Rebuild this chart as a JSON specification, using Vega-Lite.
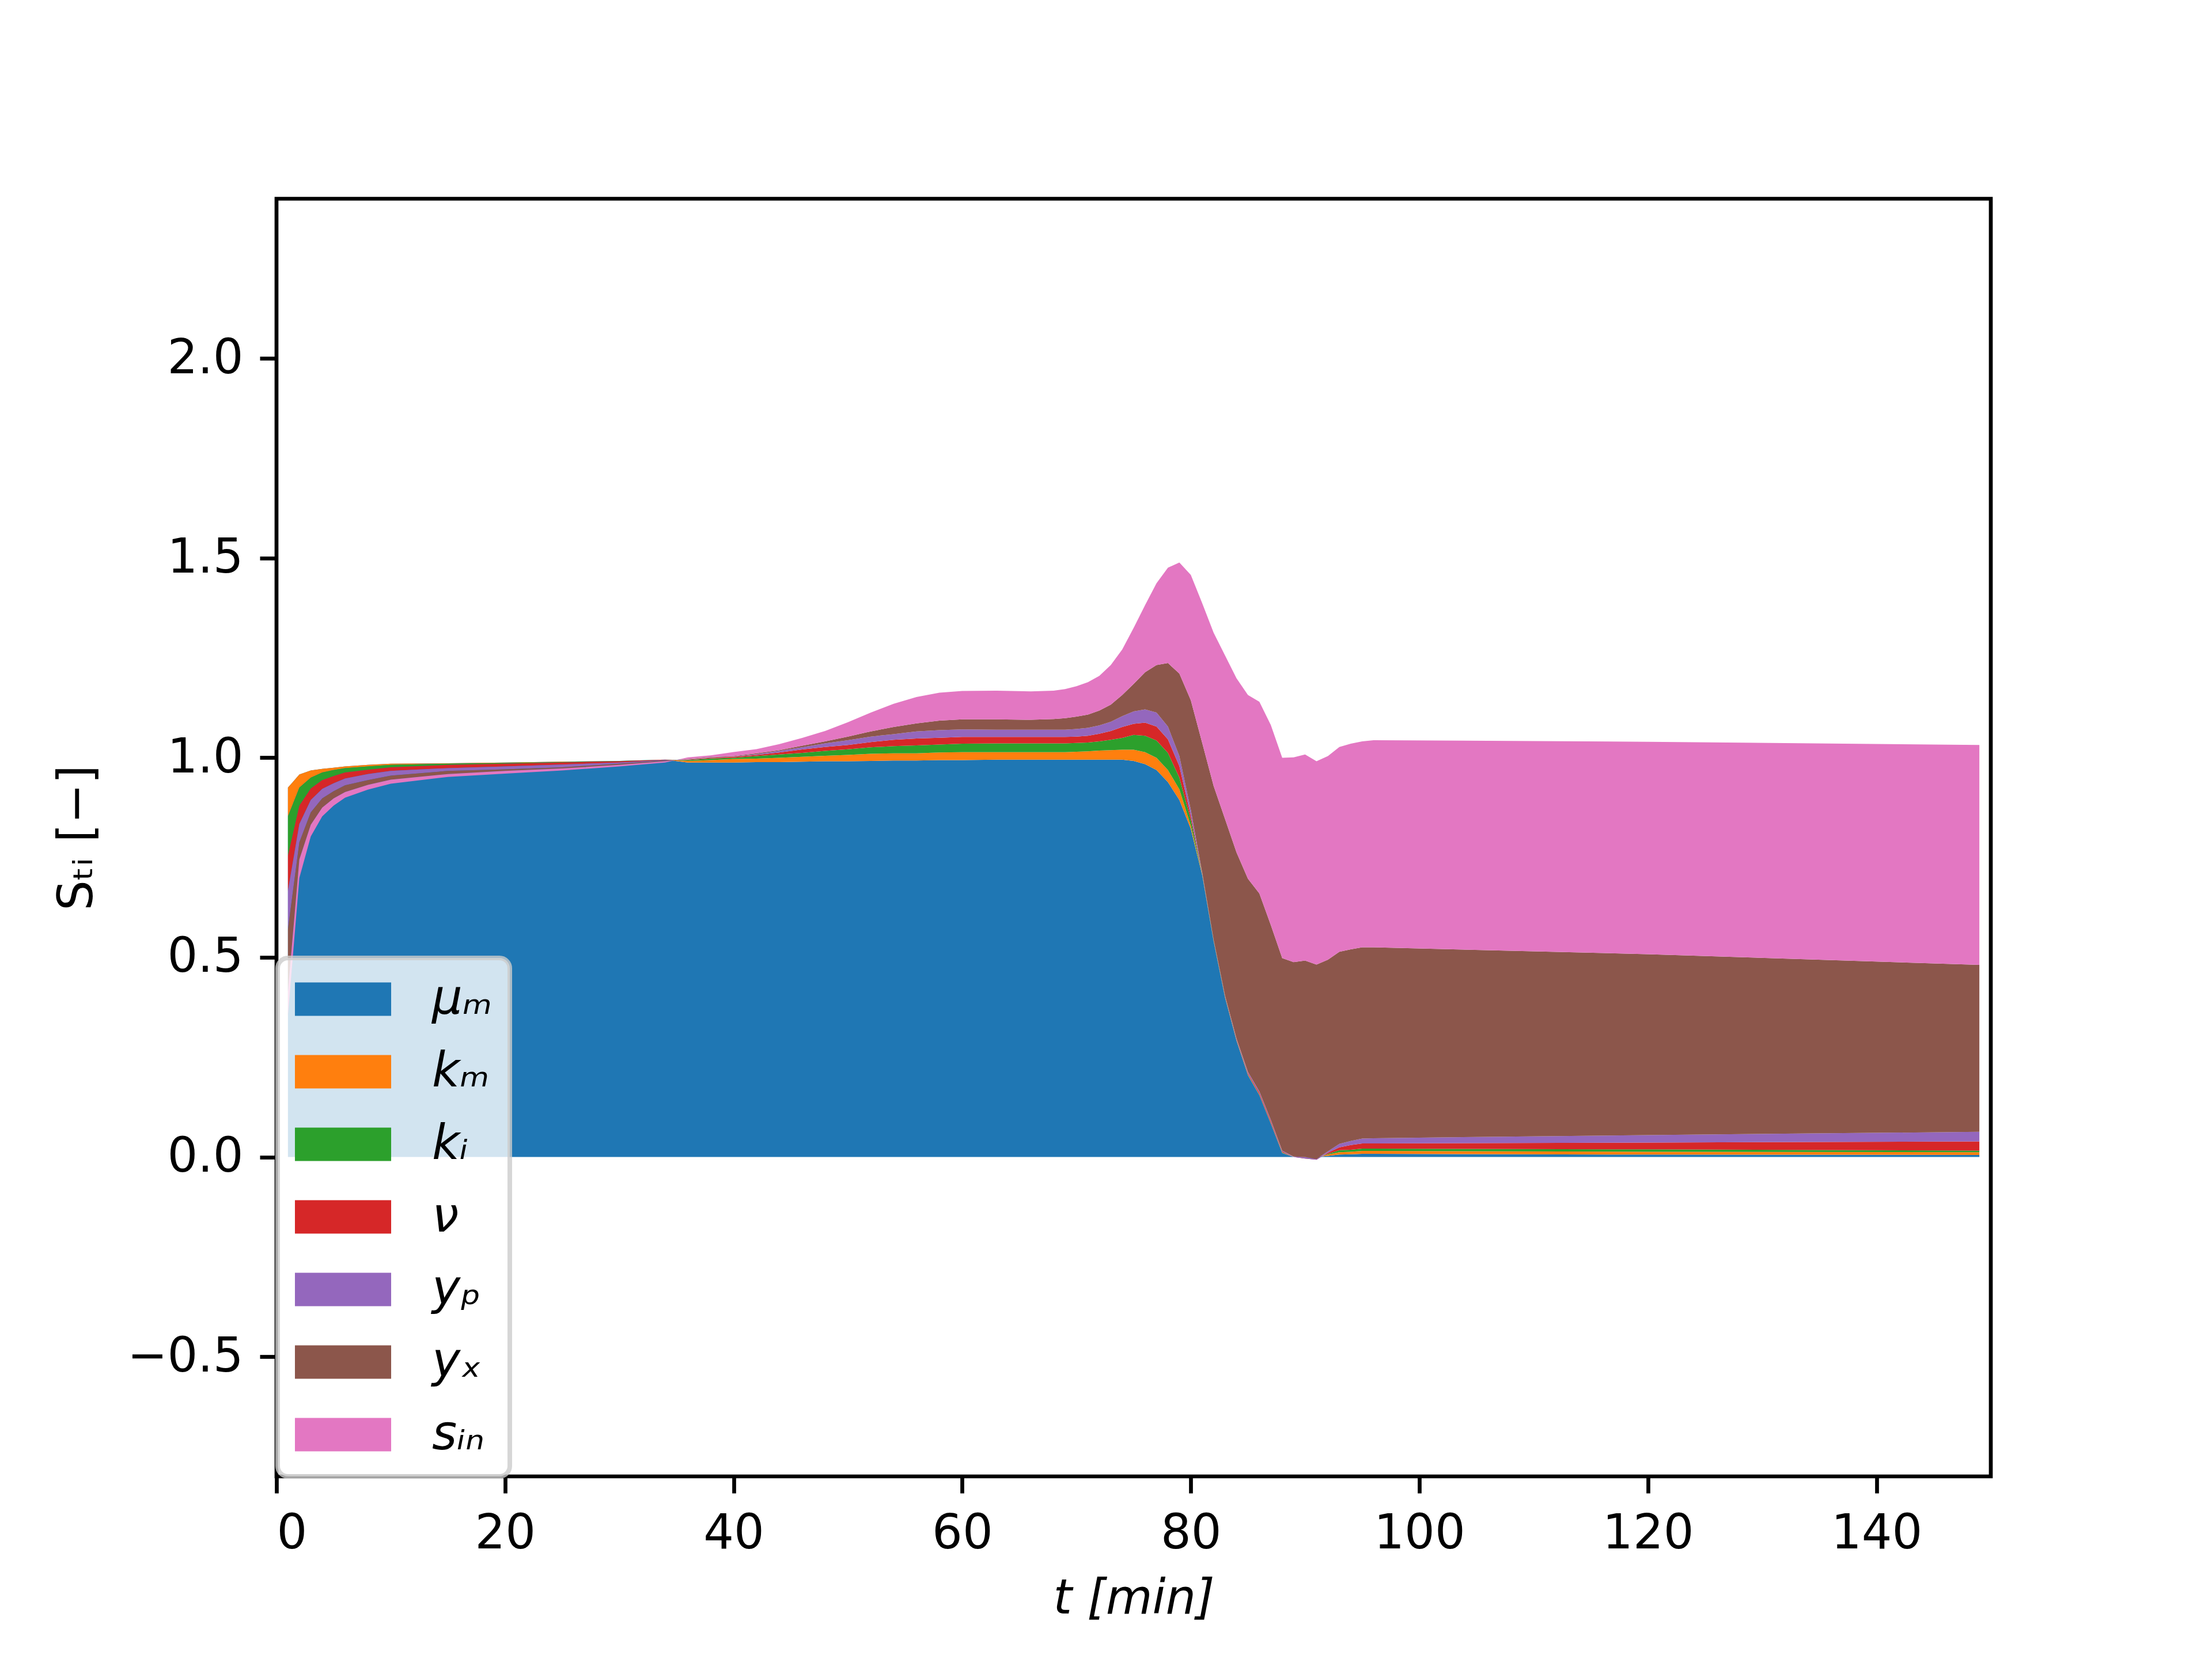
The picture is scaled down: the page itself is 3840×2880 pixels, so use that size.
{
  "$schema": "https://vega.github.io/schema/vega-lite/v6.json",
  "width": 2976,
  "height": 2218,
  "autosize": {"type": "none"},
  "padding": {"left": 480, "top": 345, "right": 384, "bottom": 317},
  "background": "white",
  "config": {
    "view": {"stroke": "black", "strokeWidth": 6.7},
    "font": "DejaVu Sans",
    "axis": {
      "domain": false,
      "grid": false,
      "ticks": true,
      "tickSize": 29,
      "tickWidth": 6.7,
      "tickColor": "black",
      "labelFont": "DejaVu Sans",
      "labelFontSize": 83,
      "labelColor": "black",
      "labelPadding": 29,
      "labelLimit": 0,
      "titleFont": "DejaVu Sans",
      "titleFontSize": 83,
      "titleFontWeight": "normal",
      "titleColor": "black"
    }
  },
  "data": {
    "values": [
      {"t": 1, "c1": 0.925, "c2": -0.072, "c3": -0.098, "c4": -0.089, "c5": -0.096, "c6": -0.156, "c7": -0.060},
      {"t": 2, "c1": 0.958, "c2": -0.033, "c3": -0.045, "c4": -0.046, "c5": -0.046, "c6": -0.043, "c7": -0.046},
      {"t": 3, "c1": 0.968, "c2": -0.018, "c3": -0.027, "c4": -0.029, "c5": -0.031, "c6": -0.031, "c7": -0.029},
      {"t": 4, "c1": 0.972, "c2": -0.009, "c3": -0.019, "c4": -0.022, "c5": -0.024, "c6": -0.023, "c7": -0.022},
      {"t": 5, "c1": 0.975, "c2": -0.006, "c3": -0.015, "c4": -0.018, "c5": -0.020, "c6": -0.018, "c7": -0.018},
      {"t": 6, "c1": 0.978, "c2": -0.004, "c3": -0.011, "c4": -0.015, "c5": -0.017, "c6": -0.017, "c7": -0.014},
      {"t": 8, "c1": 0.982, "c2": -0.004, "c3": -0.008, "c4": -0.011, "c5": -0.015, "c6": -0.012, "c7": -0.012},
      {"t": 10, "c1": 0.985, "c2": -0.003, "c3": -0.006, "c4": -0.009, "c5": -0.012, "c6": -0.010, "c7": -0.010},
      {"t": 15, "c1": 0.986, "c2": -0.001, "c3": -0.003, "c4": -0.008, "c5": -0.007, "c6": -0.008, "c7": -0.007},
      {"t": 20, "c1": 0.988, "c2": -0.001, "c3": -0.002, "c4": -0.007, "c5": -0.007, "c6": -0.004, "c7": -0.007},
      {"t": 25, "c1": 0.990, "c2": -0.001, "c3": -0.001, "c4": -0.005, "c5": -0.007, "c6": -0.003, "c7": -0.005},
      {"t": 30, "c1": 0.992, "c2": 0.0, "c3": -0.001, "c4": -0.003, "c5": -0.003, "c6": -0.003, "c7": -0.004},
      {"t": 34, "c1": 0.995, "c2": 0.0, "c3": 0.0, "c4": -0.001, "c5": -0.001, "c6": -0.002, "c7": -0.003},
      {"t": 36, "c1": 0.988, "c2": 0.004, "c3": 0.002, "c4": 0.001, "c5": 0.001, "c6": 0.001, "c7": 0.004},
      {"t": 38, "c1": 0.988, "c2": 0.006, "c3": 0.004, "c4": 0.002, "c5": 0.001, "c6": 0.001, "c7": 0.004},
      {"t": 40, "c1": 0.988, "c2": 0.0087, "c3": 0.0033, "c4": 0.0024, "c5": 0.0006, "c6": 0.0013, "c7": 0.0101},
      {"t": 42, "c1": 0.989, "c2": 0.0086, "c3": 0.0067, "c4": 0.0027, "c5": 0.002, "c6": 0.002, "c7": 0.0106},
      {"t": 44, "c1": 0.989, "c2": 0.011, "c3": 0.008, "c4": 0.005, "c5": 0.004, "c6": 0.002, "c7": 0.015},
      {"t": 46, "c1": 0.990, "c2": 0.0124, "c3": 0.0096, "c4": 0.0086, "c5": 0.0054, "c6": 0.004, "c7": 0.0195},
      {"t": 48, "c1": 0.991, "c2": 0.014, "c3": 0.012, "c4": 0.010, "c5": 0.009, "c6": 0.005, "c7": 0.026},
      {"t": 50, "c1": 0.991, "c2": 0.016, "c3": 0.014, "c4": 0.011, "c5": 0.012, "c6": 0.009, "c7": 0.036},
      {"t": 52, "c1": 0.992, "c2": 0.018, "c3": 0.016, "c4": 0.013, "c5": 0.014, "c6": 0.013, "c7": 0.047},
      {"t": 54, "c1": 0.993, "c2": 0.018, "c3": 0.018, "c4": 0.016, "c5": 0.014, "c6": 0.018, "c7": 0.058},
      {"t": 56, "c1": 0.993, "c2": 0.018, "c3": 0.020, "c4": 0.017, "c5": 0.018, "c6": 0.020, "c7": 0.066},
      {"t": 58, "c1": 0.994, "c2": 0.019, "c3": 0.020, "c4": 0.017, "c5": 0.019, "c6": 0.024, "c7": 0.070},
      {"t": 60, "c1": 0.994, "c2": 0.020, "c3": 0.021, "c4": 0.017, "c5": 0.019, "c6": 0.025, "c7": 0.071},
      {"t": 63, "c1": 0.995, "c2": 0.019, "c3": 0.022, "c4": 0.016, "c5": 0.018, "c6": 0.026, "c7": 0.072},
      {"t": 66, "c1": 0.995, "c2": 0.019, "c3": 0.022, "c4": 0.016, "c5": 0.018, "c6": 0.025, "c7": 0.071},
      {"t": 68, "c1": 0.995, "c2": 0.019, "c3": 0.022, "c4": 0.016, "c5": 0.018, "c6": 0.027, "c7": 0.071},
      {"t": 69, "c1": 0.995, "c2": 0.019, "c3": 0.022, "c4": 0.016, "c5": 0.018, "c6": 0.029, "c7": 0.073},
      {"t": 70, "c1": 0.995, "c2": 0.020, "c3": 0.022, "c4": 0.016, "c5": 0.019, "c6": 0.031, "c7": 0.076},
      {"t": 71, "c1": 0.995, "c2": 0.021, "c3": 0.022, "c4": 0.017, "c5": 0.020, "c6": 0.033, "c7": 0.081},
      {"t": 72, "c1": 0.995, "c2": 0.023, "c3": 0.023, "c4": 0.019, "c5": 0.021, "c6": 0.037, "c7": 0.087},
      {"t": 73, "c1": 0.995, "c2": 0.024, "c3": 0.026, "c4": 0.022, "c5": 0.023, "c6": 0.043, "c7": 0.099},
      {"t": 74, "c1": 0.995, "c2": 0.025, "c3": 0.0295, "c4": 0.0275, "c5": 0.027, "c6": 0.053, "c7": 0.114},
      {"t": 75, "c1": 0.992, "c2": 0.028, "c3": 0.037, "c4": 0.028, "c5": 0.031, "c6": 0.069, "c7": 0.140},
      {"t": 76, "c1": 0.984, "c2": 0.030, "c3": 0.041, "c4": 0.033, "c5": 0.033, "c6": 0.093, "c7": 0.168},
      {"t": 77, "c1": 0.969, "c2": 0.031, "c3": 0.043, "c4": 0.035, "c5": 0.035, "c6": 0.119, "c7": 0.205},
      {"t": 78, "c1": 0.939, "c2": 0.030, "c3": 0.043, "c4": 0.034, "c5": 0.032, "c6": 0.159, "c7": 0.239},
      {"t": 79, "c1": 0.894, "c2": 0.027, "c3": 0.029, "c4": 0.029, "c5": 0.025, "c6": 0.207, "c7": 0.278},
      {"t": 80, "c1": 0.822, "c2": 0.008, "c3": 0.015, "c4": 0.010, "c5": 0.015, "c6": 0.274, "c7": 0.314},
      {"t": 81, "c1": 0.706, "c2": 0.002, "c3": 0.001, "c4": 0.001, "c5": 0.002, "c6": 0.325, "c7": 0.350},
      {"t": 82, "c1": 0.540, "c2": 0.001, "c3": 0.001, "c4": 0.001, "c5": 0.001, "c6": 0.385, "c7": 0.384},
      {"t": 83, "c1": 0.399, "c2": 0.001, "c3": 0.001, "c4": 0.002, "c5": 0.001, "c6": 0.442, "c7": 0.410},
      {"t": 84, "c1": 0.291, "c2": 0.001, "c3": 0.001, "c4": 0.002, "c5": 0.002, "c6": 0.466, "c7": 0.436},
      {"t": 85, "c1": 0.205, "c2": 0.001, "c3": 0.001, "c4": 0.003, "c5": 0.003, "c6": 0.484, "c7": 0.460},
      {"t": 86, "c1": 0.155, "c2": 0.001, "c3": 0.001, "c4": 0.004, "c5": 0.003, "c6": 0.496, "c7": 0.480},
      {"t": 87, "c1": 0.084, "c2": 0.001, "c3": 0.001, "c4": 0.004, "c5": 0.003, "c6": 0.488, "c7": 0.501},
      {"t": 88, "c1": 0.010, "c2": 0.001, "c3": 0.001, "c4": 0.002, "c5": 0.002, "c6": 0.482, "c7": 0.502},
      {"t": 89, "c1": 0.0, "c2": 0.0, "c3": 0.0, "c4": 0.0, "c5": 0.001, "c6": 0.487, "c7": 0.513},
      {"t": 90, "c1": 0.0, "c2": -0.001, "c3": -0.001, "c4": -0.002, "c5": 0.004, "c6": 0.492, "c7": 0.516},
      {"t": 91, "c1": 0.0, "c2": -0.002, "c3": -0.002, "c4": -0.003, "c5": 0.002, "c6": 0.487, "c7": 0.509},
      {"t": 92, "c1": 0.003, "c2": 0.003, "c3": 0.002, "c4": 0.003, "c5": 0.003, "c6": 0.480, "c7": 0.510},
      {"t": 93, "c1": 0.006, "c2": 0.006, "c3": 0.005, "c4": 0.007, "c5": 0.009, "c6": 0.481, "c7": 0.513},
      {"t": 94, "c1": 0.007, "c2": 0.006, "c3": 0.005, "c4": 0.012, "c5": 0.010, "c6": 0.480, "c7": 0.515},
      {"t": 95, "c1": 0.008, "c2": 0.007, "c3": 0.006, "c4": 0.013, "c5": 0.012, "c6": 0.479, "c7": 0.516},
      {"t": 96, "c1": 0.008, "c2": 0.007, "c3": 0.006, "c4": 0.013, "c5": 0.013, "c6": 0.478, "c7": 0.519},
      {"t": 120, "c1": 0.006, "c2": 0.007, "c3": 0.006, "c4": 0.017, "c5": 0.019, "c6": 0.453, "c7": 0.532},
      {"t": 149, "c1": 0.005, "c2": 0.007, "c3": 0.004, "c4": 0.023, "c5": 0.024, "c6": 0.418, "c7": 0.551}
    ]
  },
  "transform": [
    {"fold": ["c1", "c2", "c3", "c4", "c5", "c6", "c7"], "as": ["series", "v"]},
    {"window": [{"op": "sum", "field": "v", "as": "top"}], "groupby": ["t"], "frame": [null, 0]},
    {"window": [{"op": "sum", "field": "v", "as": "bottom"}], "groupby": ["t"], "frame": [null, -1]}
  ],
  "encoding": {
    "x": {
      "field": "t",
      "type": "quantitative",
      "scale": {"domain": [0, 150], "nice": false, "zero": false},
      "axis": {
        "values": [0, 20, 40, 60, 80, 100, 120, 140],
        "format": "d",
        "title": "t [min]",
        "titleFontStyle": "italic",
        "titlePadding": 30
      }
    },
    "y": {
      "field": "top",
      "type": "quantitative",
      "stack": null,
      "scale": {"domain": [-0.8, 2.4], "nice": false, "zero": false},
      "axis": {
        "values": [-0.5, 0, 0.5, 1, 1.5, 2],
        "format": ".1f",
        "title": "Sₜᵢ [−]",
        "titlePadding": 104
      }
    },
    "color": {
      "field": "series",
      "type": "nominal",
      "scale": {
        "domain": ["c1", "c2", "c3", "c4", "c5", "c6", "c7"],
        "range": ["#1f77b4", "#ff7f0e", "#2ca02c", "#d62728", "#9467bd", "#8c564b", "#e377c2"]
      },
      "legend": {
        "title": null,
        "orient": "none",
        "legendX": 2,
        "legendY": 1318,
        "fillColor": "rgba(255,255,255,0.8)",
        "strokeColor": "rgba(204,204,204,0.8)",
        "cornerRadius": 18,
        "padding": 30,
        "symbolType": "M-2.88,-1H2.88V1H-2.88Z",
        "symbolSize": 3364,
        "symbolOffset": 42,
        "symbolStrokeWidth": 0,
        "symbolOpacity": 1,
        "labelFont": "DejaVu Sans",
        "labelFontSize": 83,
        "labelFontStyle": "italic",
        "labelColor": "black",
        "labelOffset": 113,
        "labelLimit": 0,
        "rowPadding": 42,
        "labelExpr": "{'c1':'μₘ','c2':'kₘ','c3':'kᵢ','c4':'ν','c5':'yₚ','c6':'yₓ','c7':'sᵢₙ'}[datum.label]",
        "encode": {
          "legend": {"update": {"strokeWidth": {"value": 8}}}
        }
      }
    }
  },
  "layer": [
    {
      "transform": [{"filter": "datum.series === 'c1'"}],
      "mark": {"type": "area", "interpolate": "linear", "opacity": 1, "strokeWidth": 0},
      "encoding": {"y2": {"datum": 0}}
    },
    {
      "transform": [{"filter": "datum.series !== 'c1'"}],
      "mark": {"type": "area", "interpolate": "linear", "opacity": 1, "strokeWidth": 0},
      "encoding": {"y2": {"field": "bottom"}}
    }
  ]
}
